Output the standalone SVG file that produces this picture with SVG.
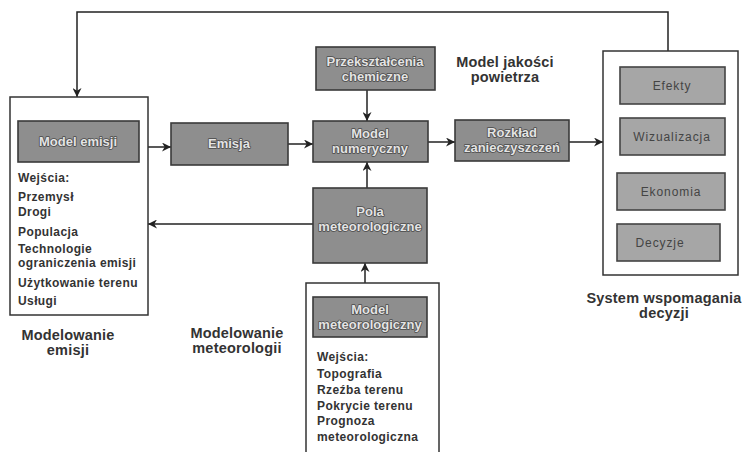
<svg xmlns="http://www.w3.org/2000/svg" width="743" height="452" viewBox="0 0 743 452">
<defs>
<marker id="arr" viewBox="0 0 10 10" refX="10" refY="5" markerWidth="9" markerHeight="9" markerUnits="userSpaceOnUse" orient="auto">
<path d="M0,0 L10,5 L0,10 L3,5 z" fill="#222"/>
</marker>
</defs>
<style>
.cont{fill:#fff;stroke:#333;stroke-width:1.5}
.gb{fill:#8e8e8e;stroke:#3a3a3a;stroke-width:1.6}
.lb{fill:#a6a6a6;stroke:#444;stroke-width:1.6}
.gt{font-family:"Liberation Sans",Arial,sans-serif;font-size:13px;font-weight:bold;fill:#e4e4e4;stroke:#4a4a4a;stroke-width:1.6;paint-order:stroke fill;stroke-linejoin:round;text-anchor:middle}
.lt{font-family:"Liberation Sans",Arial,sans-serif;font-size:12px;letter-spacing:0.9px;fill:#444;text-anchor:middle}
.tx{font-family:"Liberation Sans",Arial,sans-serif;font-size:12px;letter-spacing:0.4px;font-weight:bold;fill:#333}
.hd{font-family:"Liberation Sans",Arial,sans-serif;font-size:14.5px;letter-spacing:0.2px;font-weight:bold;fill:#333;text-anchor:middle}
.ln{fill:none;stroke:#222;stroke-width:1.5}
</style>
<g id="connectors">
<polyline class="ln" points="668,51 668,12 77,12 77,97" marker-end="url(#arr)"/>
<line class="ln" x1="139" y1="147" x2="171" y2="147" marker-end="url(#arr)"/>
<line class="ln" x1="288" y1="144" x2="313" y2="144" marker-end="url(#arr)"/>
<line class="ln" x1="367" y1="90" x2="367" y2="121" marker-end="url(#arr)"/>
<line class="ln" x1="367" y1="188" x2="367" y2="162" marker-end="url(#arr)"/>
<line class="ln" x1="313" y1="224" x2="148" y2="224" marker-end="url(#arr)"/>
<line class="ln" x1="428" y1="142" x2="455" y2="142" marker-end="url(#arr)"/>
<line class="ln" x1="569" y1="142" x2="603" y2="142" marker-end="url(#arr)"/>
<line class="ln" x1="365" y1="297" x2="365" y2="263" marker-end="url(#arr)"/>
</g>
<g id="emission-module">
<rect class="cont" x="10" y="97" width="138" height="218"/>
<text class="tx" x="18" y="182">Wejścia:</text>
<text class="tx" x="18" y="201">Przemysł</text>
<text class="tx" x="18" y="216">Drogi</text>
<text class="tx" x="18" y="236">Populacja</text>
<text class="tx" x="18" y="253">Technologie</text>
<text class="tx" x="18" y="267">ograniczenia emisji</text>
<text class="tx" x="18" y="287">Użytkowanie terenu</text>
<text class="tx" x="18" y="305">Usługi</text>
</g>
<g id="model-emisji">
<rect class="gb" x="18" y="121" width="121" height="41"/>
<text class="gt" x="78" y="146">Model emisji</text>
</g>
<g id="emisja">
<rect class="gb" x="171" y="123" width="117" height="42"/>
<text class="gt" x="229" y="148">Emisja</text>
</g>
<g id="przeksztalcenia">
<rect class="gb" x="316" y="47" width="119" height="43"/>
<text class="gt" x="375" y="66">Przekształcenia</text>
<text class="gt" x="375" y="81">chemiczne</text>
</g>
<g id="model-numeryczny">
<rect class="gb" x="313" y="121" width="115" height="41"/>
<text class="gt" x="370" y="138">Model</text>
<text class="gt" x="370" y="153">numeryczny</text>
</g>
<g id="pola">
<rect class="gb" x="313" y="188" width="114" height="75"/>
<text class="gt" x="370" y="216">Pola</text>
<text class="gt" x="370" y="231">meteorologiczne</text>
</g>
<g id="rozklad">
<rect class="gb" x="455" y="120" width="114" height="41"/>
<text class="gt" x="512" y="137">Rozkład</text>
<text class="gt" x="512" y="152">zanieczyszczeń</text>
</g>
<g id="model-jakosci-label">
<text class="hd" x="505" y="67">Model  jakości</text>
<text class="hd" x="505" y="82">powietrza</text>
</g>
<g id="system">
<rect class="cont" x="603" y="51" width="135" height="224"/>
<rect class="lb" x="620" y="67" width="105" height="37"/>
<text class="lt" x="672" y="90">Efekty</text>
<rect class="lb" x="620" y="118" width="105" height="37"/>
<text class="lt" x="672" y="141">Wizualizacja</text>
<rect class="lb" x="617" y="173" width="108" height="37"/>
<text class="lt" x="671" y="196">Ekonomia</text>
<rect class="lb" x="617" y="224" width="103" height="37"/>
<text class="lt" x="660" y="247">Decyzje</text>
</g>
<g id="meteo-module">
<rect class="cont" x="306" y="283" width="133" height="180"/>
<text class="tx" x="317" y="361">Wejścia:</text>
<text class="tx" x="317" y="378">Topografia</text>
<text class="tx" x="317" y="394">Rzeźba terenu</text>
<text class="tx" x="317" y="410">Pokrycie terenu</text>
<text class="tx" x="317" y="425">Prognoza</text>
<text class="tx" x="317" y="441">meteorologiczna</text>
</g>
<g id="model-meteo">
<rect class="gb" x="313" y="297" width="114" height="40"/>
<text class="gt" x="370" y="314">Model</text>
<text class="gt" x="370" y="329">meteorologiczny</text>
</g>
<g id="labels">
<text class="hd" x="68" y="340">Modelowanie</text>
<text class="hd" x="68" y="355">emisji</text>
<text class="hd" x="237" y="338">Modelowanie</text>
<text class="hd" x="237" y="353">meteorologii</text>
<text class="hd" x="664" y="303">System wspomagania</text>
<text class="hd" x="664" y="318">decyzji</text>
</g>
</svg>
